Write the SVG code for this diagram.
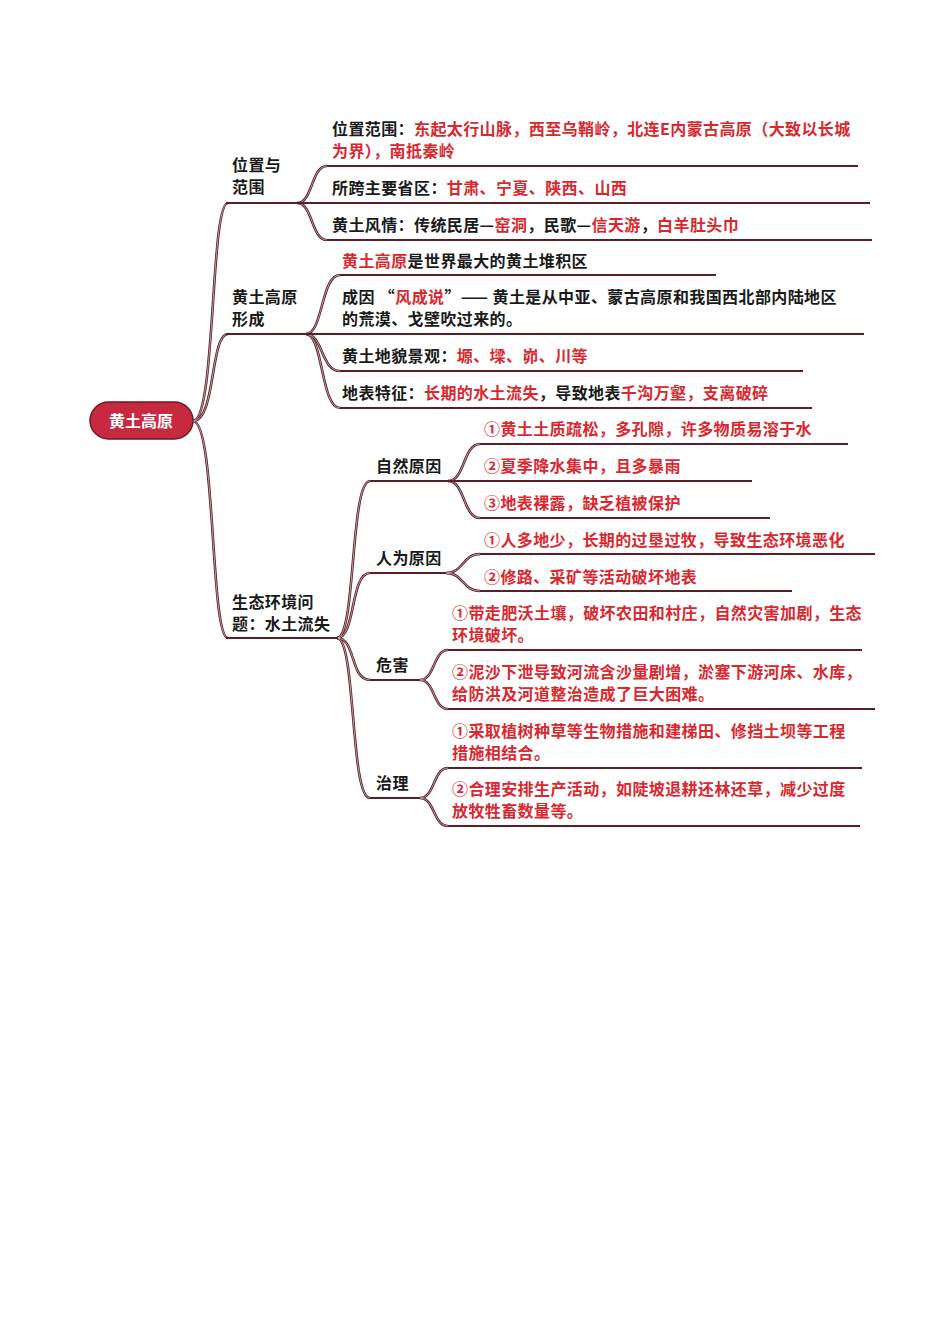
<svg xmlns="http://www.w3.org/2000/svg" xmlns:xlink="http://www.w3.org/1999/xlink" width="950" height="1344" viewBox="0 0 950 1344">
<style>
text{font-family:"Noto Sans CJK SC","Noto Sans",sans-serif;font-size:16px;font-weight:700;fill:#1a1a1a;letter-spacing:0.4px}
.r{fill:#d9282f}
.w{fill:#ffffff;letter-spacing:0}
.ul{fill:none;stroke:#5a1e26;stroke-width:1.8}
</style>
<defs>
<g id="curves" fill="none">
<path d="M193,421 C216,421 210,203 228,203"/>
<path d="M193,421 C216,421 210,334 228,334"/>
<path d="M193,421 C216,421 210,638 228,638"/>
<path d="M297,203 C313,203 311,166 327,166"/>
<path d="M297,203 C313,203 311,240 327,240"/>
<path d="M306,334 C323,334 321,275 340,275"/>
<path d="M306,334 C323,334 321,371 340,371"/>
<path d="M306,334 C323,334 321,408 340,408"/>
<path d="M337,638 C356,638 350,481 370,481"/>
<path d="M337,638 C356,638 350,573 370,573"/>
<path d="M337,638 C356,638 350,680 370,680"/>
<path d="M337,638 C356,638 350,798 370,798"/>
<path d="M448,481 C465,481 463,444 480,444"/>
<path d="M448,481 C465,481 463,518 480,518"/>
<path d="M446,573 C464,573 462,554 480,554"/>
<path d="M446,573 C464,573 462,591 480,591"/>
<path d="M420,680 C435,680 433,650 448,650"/>
<path d="M420,680 C435,680 433,709 448,709"/>
<path d="M420,798 C435,798 433,768 448,768"/>
<path d="M420,798 C435,798 433,826 448,826"/>
</g>
</defs>
<g id="connectors">
<use xlink:href="#curves" href="#curves" stroke="#5a1e26" stroke-width="2.6"/>
<use xlink:href="#curves" href="#curves" stroke="#e6cfd2" stroke-width="0.7"/>
<path class="ul" d="M226,203 H870"/>
<path class="ul" d="M327,166 H858"/>
<path class="ul" d="M327,240 H872"/>
<path class="ul" d="M226,334 H864"/>
<path class="ul" d="M340,275 H716"/>
<path class="ul" d="M340,371 H803"/>
<path class="ul" d="M340,408 H812"/>
<path class="ul" d="M226,638 H338"/>
<path class="ul" d="M370,481 H752"/>
<path class="ul" d="M480,444 H848"/>
<path class="ul" d="M480,518 H770"/>
<path class="ul" d="M370,573 H446"/>
<path class="ul" d="M480,554 H875"/>
<path class="ul" d="M480,591 H792"/>
<path class="ul" d="M370,680 H420"/>
<path class="ul" d="M448,650 H862"/>
<path class="ul" d="M448,709 H875"/>
<path class="ul" d="M370,798 H420"/>
<path class="ul" d="M448,768 H862"/>
<path class="ul" d="M448,826 H860"/>
</g>
<g id="root">
<rect x="90" y="402" width="103" height="37" rx="18.5" fill="#c62940" stroke="#6e1a28" stroke-width="1.5"/>
<text class="w" x="141" y="427" text-anchor="middle">黄土高原</text>
</g>
<g id="b1">
<text x="232" y="171">位置与</text>
<text x="232" y="193">范围</text>
</g>
<g id="b1-1">
<text x="332" y="135">位置范围：<tspan class="r">东起太行山脉，西至乌鞘岭，北连E内蒙古高原（大致以长城</tspan></text>
<text x="332" y="157" class="r">为界），南抵秦岭</text>
</g>
<g id="b1-2">
<text x="332" y="194">所跨主要省区：<tspan class="r">甘肃、宁夏、陕西、山西</tspan></text>
</g>
<g id="b1-3">
<text x="332" y="231">黄土风情：传统民居—<tspan class="r">窑洞</tspan>，民歌—<tspan class="r">信天游</tspan>，<tspan class="r">白羊肚头巾</tspan></text>
</g>
<g id="b2">
<text x="232" y="303">黄土高原</text>
<text x="232" y="325">形成</text>
</g>
<g id="b2-1">
<text x="342" y="267"><tspan class="r">黄土高原</tspan>是世界最大的黄土堆积区</text>
</g>
<g id="b2-2">
<text x="342" y="303">成因 “<tspan class="r">风成说</tspan>”—— 黄土是从中亚、蒙古高原和我国西北部内陆地区</text>
<text x="342" y="325">的荒漠、戈壁吹过来的。</text>
</g>
<g id="b2-3">
<text x="342" y="362">黄土地貌景观：<tspan class="r">塬、墚、峁、川等</tspan></text>
</g>
<g id="b2-4">
<text x="342" y="399">地表特征：<tspan class="r">长期的水土流失</tspan>，导致地表<tspan class="r">千沟万壑，支离破碎</tspan></text>
</g>
<g id="b3">
<text x="232" y="608">生态环境问</text>
<text x="232" y="630">题：水土流失</text>
</g>
<g id="b3-1">
<text x="376" y="472">自然原因</text>
</g>
<g id="b3-1-1"><text x="484" y="435" class="r">①黄土土质疏松，多孔隙，许多物质易溶于水</text></g>
<g id="b3-1-2"><text x="484" y="472" class="r">②夏季降水集中，且多暴雨</text></g>
<g id="b3-1-3"><text x="484" y="509" class="r">③地表裸露，缺乏植被保护</text></g>
<g id="b3-2">
<text x="376" y="564">人为原因</text>
</g>
<g id="b3-2-1"><text x="484" y="546" class="r">①人多地少，长期的过垦过牧，导致生态环境恶化</text></g>
<g id="b3-2-2"><text x="484" y="583" class="r">②修路、采矿等活动破坏地表</text></g>
<g id="b3-3">
<text x="376" y="671">危害</text>
</g>
<g id="b3-3-1">
<text x="452" y="619" class="r">①带走肥沃土壤，破坏农田和村庄，自然灾害加剧，生态</text>
<text x="452" y="641" class="r">环境破坏。</text>
</g>
<g id="b3-3-2">
<text x="452" y="678" class="r">②泥沙下泄导致河流含沙量剧增，淤塞下游河床、水库，</text>
<text x="452" y="700" class="r">给防洪及河道整治造成了巨大困难。</text>
</g>
<g id="b3-4">
<text x="376" y="789">治理</text>
</g>
<g id="b3-4-1">
<text x="452" y="737" class="r">①采取植树种草等生物措施和建梯田、修挡土坝等工程</text>
<text x="452" y="759" class="r">措施相结合。</text>
</g>
<g id="b3-4-2">
<text x="452" y="795" class="r">②合理安排生产活动，如陡坡退耕还林还草，减少过度</text>
<text x="452" y="817" class="r">放牧牲畜数量等。</text>
</g>
</svg>
